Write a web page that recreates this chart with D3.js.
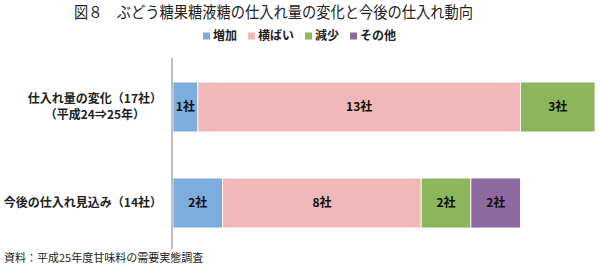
<!DOCTYPE html>
<html>
<head>
<meta charset="utf-8">
<script src="https://cdn.jsdelivr.net/npm/d3@7"></script>
<style>
  body { margin: 0; background: #fff; }
  svg { display: block; font-family: "Noto Sans CJK JP", "Noto Sans", sans-serif; }
</style>
</head>
<body>
<figure id="chart" style="margin:0"></figure>
<script>
// data
const categories = ["仕入れ量の変化", "今後の仕入れ見込み"];
const categoryLines = [["仕入れ量の変化（17社）", "（平成24⇒25年）"], ["今後の仕入れ見込み（14社）"]];
const seriesNames = ["増加", "横ばい", "減少", "その他"];
const increase = [1, 2];
const flat = [13, 8];
const decrease = [3, 2];
const other = [0, 2];
const seriesValues = [increase, flat, decrease, other];
const colors = ["#7caddc", "#f0b8b8", "#8cb65a", "#8e69a0"];

const width = 600, height = 267;

const svg = d3.select("#chart").append("svg")
  .attr("width", width)
  .attr("height", height);

// title
svg.append("text")
  .attr("x", 74)
  .attr("y", 18)
  .attr("font-size", 16)
  .attr("fill", "#222")
  .attr("textLength", 399)
  .attr("lengthAdjust", "spacingAndGlyphs")
  .text("図８　ぶどう糖果糖液糖の仕入れ量の変化と今後の仕入れ動向");

// legend
const legend = svg.append("g").attr("transform", "translate(203,36)");
let lx = 0;
seriesNames.forEach((name, i) => {
  const g = legend.append("g").attr("transform", `translate(${lx},0)`);
  g.append("rect").attr("x", 0).attr("y", -3.5).attr("width", 7).attr("height", 7).attr("fill", colors[i]);
  const t = g.append("text").attr("x", 10).attr("y", 0).attr("dy", "0.35em")
    .attr("font-size", 12).attr("font-weight", "bold").attr("fill", "#222").text(name);
  lx += 10 + t.node().getComputedTextLength() + 11;
});

// scales
const x = d3.scaleLinear().domain([0, 17]).range([173, 595]);
const y = d3.scaleBand().domain(categories).range([59, 251]).paddingInner(0.48).paddingOuter(0.24);

// stacked data
const rows = categories.map((c, j) => {
  const r = { cat: c };
  seriesNames.forEach((s, i) => r[s] = seriesValues[i][j]);
  return r;
});
const stacked = d3.stack().keys(seriesNames)(rows);

const layers = svg.selectAll("g.layer").data(stacked).enter().append("g")
  .attr("class", "layer")
  .attr("fill", (d, i) => colors[i]);

layers.selectAll("rect").data(d => d.filter(p => p[1] - p[0] > 0)).enter().append("rect")
  .attr("x", d => x(d[0]))
  .attr("y", d => y(d.data.cat))
  .attr("width", d => x(d[1]) - x(d[0]))
  .attr("height", y.bandwidth())
  .attr("stroke", "#fff")
  .attr("stroke-width", 0.8);

layers.selectAll("text").data(d => d.filter(p => p[1] - p[0] > 0)).enter().append("text")
  .attr("x", d => (x(d[0]) + x(d[1])) / 2)
  .attr("y", d => y(d.data.cat) + y.bandwidth() / 2)
  .attr("dy", "0.35em")
  .attr("text-anchor", "middle")
  .attr("font-size", 12)
  .attr("font-weight", "bold")
  .attr("fill", "#111")
  .text(d => (d[1] - d[0]) + "社");

// vertical axis line
svg.append("line")
  .attr("x1", x(0) - 1).attr("x2", x(0) - 1)
  .attr("y1", 58).attr("y2", 249)
  .attr("stroke", "#bfbfbf")
  .attr("stroke-width", 2);

// category labels
categories.forEach((c, j) => {
  const lines = categoryLines[j];
  const cy = y(c) + y.bandwidth() / 2;
  const lh = 16;
  const g = svg.append("g");
  const texts = lines.map((l, k) => g.append("text")
    .attr("y", cy + (k - (lines.length - 1) / 2) * lh)
    .attr("dy", "0.35em")
    .attr("text-anchor", "middle")
    .attr("font-size", 12)
    .attr("font-weight", "bold")
    .attr("fill", "#222")
    .text(l));
  const maxW = d3.max(texts, t => t.node().getComputedTextLength());
  texts.forEach(t => t.attr("x", 162 - maxW / 2));
});

// source
svg.append("text")
  .attr("x", 4)
  .attr("y", 258)
  .attr("dy", "0.35em")
  .attr("font-size", 11)
  .attr("fill", "#222")
  .text("資料：平成25年度甘味料の需要実態調査");
</script>
</body>
</html>
